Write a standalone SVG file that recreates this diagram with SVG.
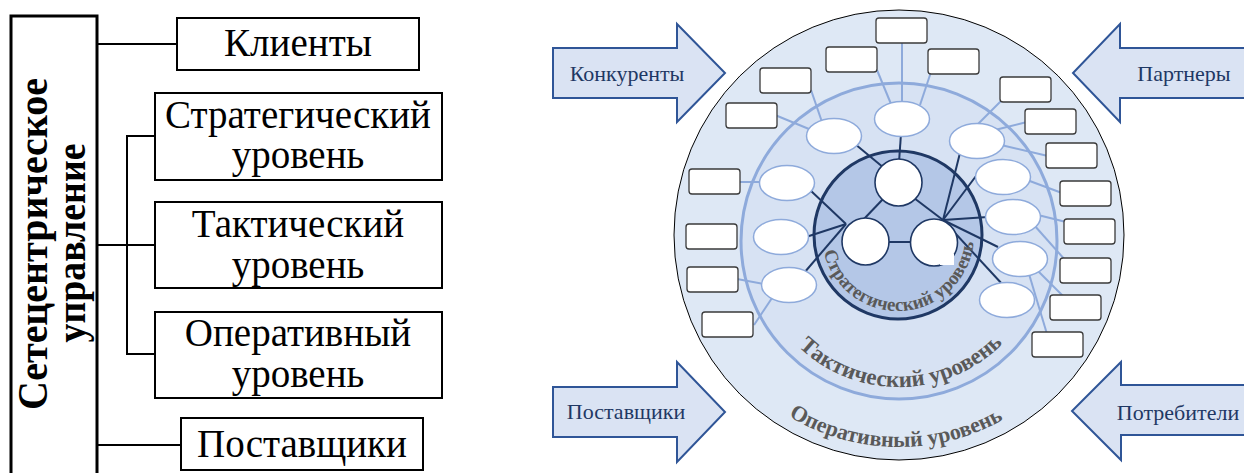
<svg xmlns="http://www.w3.org/2000/svg" xmlns:xlink="http://www.w3.org/1999/xlink" width="1244" height="473" viewBox="0 0 1244 473">
  <style>
    .box { fill: #ffffff; stroke: #000000; stroke-width: 2; }
    .frame { fill: #ffffff; stroke: #000000; stroke-width: 3; }
    .tree { fill: none; stroke: #000000; stroke-width: 2; }
    .lbl { font-family: "Liberation Serif", "Times New Roman", serif; font-size: 39px; fill: #000000; text-anchor: middle; }
    .vlbl { font-family: "Liberation Serif", "Times New Roman", serif; font-size: 43px; font-weight: bold; fill: #000000; text-anchor: middle; }
    .arrow { fill: #dae3f3; stroke: #2f5597; stroke-width: 2; stroke-linejoin: miter; }
    .alabel { font-family: "Liberation Serif", "Times New Roman", serif; font-size: 22px; fill: #1f3864; text-anchor: middle; }
    .ring-out { fill: #dee8f5; stroke: #000000; stroke-width: 1; }
    .ring-mid { fill: #d7e2f3; stroke: #8eaadb; stroke-width: 3; }
    .ring-in { fill: #b4c7e7; stroke: #1f3864; stroke-width: 3; }
    .ell { fill: #ffffff; stroke: #8eaadb; stroke-width: 1.5; }
    .cell { fill: #ffffff; stroke: #3a3a3a; stroke-width: 1.3; }
    .core { fill: #ffffff; stroke: #1f3864; stroke-width: 1.6; }
    .lt { fill: none; stroke: #8eaadb; stroke-width: 2; }
    .dk { fill: none; stroke: #1f3864; stroke-width: 2; }
    .arc { font-family: "Liberation Serif", "Times New Roman", serif; font-weight: bold; fill: #595959; text-anchor: middle; }
  </style>
  <defs>
    <path id="arc-strat" d="M822,235 A76,76 0 0 0 974,235"/>
    <path id="arc-tact" d="M753,241 A146,146 0 0 0 1045,241"/>
    <path id="arc-oper" d="M687,235 A212,212 0 0 0 1111,235"/>
  </defs>

  <!-- Left hierarchy -->
  <g id="tree-links">
    <path class="tree" d="M97,44 H177"/>
    <path class="tree" d="M97,245 H155"/>
    <path class="tree" d="M155,136 H127 V354 H155"/>
    <path class="tree" d="M97,445 H181"/>
  </g>
  <g id="root">
    <rect class="frame" x="11" y="16" width="86" height="470"/>
    <text class="vlbl" transform="translate(47,244) rotate(-90)" textLength="332" lengthAdjust="spacingAndGlyphs">Сетецентрическое</text>
    <text class="vlbl" transform="translate(85,243) rotate(-90)" textLength="199" lengthAdjust="spacingAndGlyphs">управление</text>
  </g>
  <g id="clients">
    <rect class="box" x="177" y="18" width="242" height="52"/>
    <text class="lbl" x="298" y="56">Клиенты</text>
  </g>
  <g id="strategic">
    <rect class="box" x="155" y="93" width="287" height="87"/>
    <text class="lbl" x="298" y="128">Стратегический</text>
    <text class="lbl" x="298" y="168">уровень</text>
  </g>
  <g id="tactical">
    <rect class="box" x="155" y="202" width="287" height="86"/>
    <text class="lbl" x="298" y="237">Тактический</text>
    <text class="lbl" x="298" y="278">уровень</text>
  </g>
  <g id="operational">
    <rect class="box" x="155" y="312" width="287" height="86"/>
    <text class="lbl" x="298" y="346">Оперативный</text>
    <text class="lbl" x="298" y="387">уровень</text>
  </g>
  <g id="suppliers">
    <rect class="box" x="181" y="418" width="242" height="52"/>
    <text class="lbl" x="302" y="457">Поставщики</text>
  </g>

  <!-- Concentric levels -->
  <g id="levels">
    <circle class="ring-out" cx="899" cy="235" r="225"/>
    <circle class="ring-mid" cx="899" cy="241" r="158"/>
    <circle class="ring-in" cx="898" cy="235" r="84"/>
  </g>

  <!-- Outside actors -->
  <g id="competitors">
    <polygon class="arrow" points="553,48 677,48 677,24 725,73 677,122 677,98 553,98"/>
    <text class="alabel" x="627" y="81">Конкуренты</text>
  </g>
  <g id="partners">
    <polygon class="arrow" points="1247,48 1120,48 1120,24 1073,73 1120,122 1120,98 1247,98"/>
    <text class="alabel" x="1184" y="81">Партнеры</text>
  </g>
  <g id="vendors">
    <polygon class="arrow" points="553,387 677,387 677,362 725,412 677,462 677,437 553,437"/>
    <text class="alabel" x="626" y="419">Поставщики</text>
  </g>
  <g id="consumers">
    <polygon class="arrow" points="1247,385 1121,385 1121,362 1072,411 1121,460 1121,435 1247,435"/>
    <text class="alabel" x="1178" y="420">Потребители</text>
  </g>

  <!-- Links -->
  <g id="connectors">
    <path class="lt" d="M902,105 V40"/>
    <path class="lt" d="M891,104 L877,70"/>
    <path class="lt" d="M920,105 L931,72"/>
    <path class="lt" d="M822,122 L811,90"/>
    <path class="lt" d="M809,129 L775,115"/>
    <path class="lt" d="M976,126 L1003,99"/>
    <path class="lt" d="M995,130 L1027,122"/>
    <path class="lt" d="M1001,145 L1048,156"/>
    <path class="lt" d="M762,182 L739,182"/>
    <path class="lt" d="M1027,180 L1062,193"/>
    <path class="lt" d="M1038,215 L1066,222"/>
    <path class="lt" d="M1034,225 L1066,261"/>
    <path class="lt" d="M764,284 L737,279"/>
    <path class="lt" d="M772,298 L754,325"/>
    <path class="lt" d="M1038,271 L1063,296"/>
    <path class="lt" d="M1029,274 L1047,334"/>

    <path class="dk" d="M899,162 L901,134"/>
    <path class="dk" d="M855,144 L884,168"/>
    <path class="dk" d="M810,190 L846,224"/>
    <path class="dk" d="M806,237 L846,224"/>
    <path class="dk" d="M804,273 L846,224"/>
    <path class="dk" d="M884,198 L863,220"/>
    <path class="dk" d="M914,198 L943,220"/>
    <path class="dk" d="M887,242 H913"/>
    <path class="dk" d="M943,220 L960,153"/>
    <path class="dk" d="M943,220 L976,176"/>
    <path class="dk" d="M943,220 L988,217"/>
    <path class="dk" d="M943,220 L998,247"/>
    <path class="dk" d="M943,220 L1003,285"/>
  </g>

  <!-- Level captions -->
  <g id="captions">
    <text class="arc" font-size="19"><textPath xlink:href="#arc-strat" href="#arc-strat" startOffset="52%">Стратегический уровень</textPath></text>
    <text class="arc" font-size="23"><textPath xlink:href="#arc-tact" href="#arc-tact" startOffset="50.5%">Тактический уровень</textPath></text>
    <text class="arc" font-size="22"><textPath xlink:href="#arc-oper" href="#arc-oper" startOffset="49.5%">Оперативный уровень</textPath></text>
  </g>

  <!-- Core units -->
  <g id="core-top"><circle class="core" cx="898.5" cy="182.5" r="23.5"/></g>
  <g id="core-left"><circle class="core" cx="865.5" cy="241.5" r="23.5"/></g>
  <g id="core-right">
    <circle class="core" cx="934" cy="242.5" r="23.5"/>
    <rect x="940" y="254" width="14" height="11" fill="#ffffff"/>
  </g>

  <!-- Tactical units -->
  <g id="unit-1"><ellipse class="ell" cx="834" cy="136" rx="27.5" ry="17.5"/></g>
  <g id="unit-2"><ellipse class="ell" cx="902" cy="119" rx="27.5" ry="17.5"/></g>
  <g id="unit-3"><ellipse class="ell" cx="977" cy="141" rx="27.5" ry="17.5"/></g>
  <g id="unit-4"><ellipse class="ell" cx="787" cy="183" rx="27.5" ry="17.5"/></g>
  <g id="unit-5"><ellipse class="ell" cx="1003" cy="177" rx="27.5" ry="17.5"/></g>
  <g id="unit-6"><ellipse class="ell" cx="1013" cy="217" rx="27.5" ry="17.5"/></g>
  <g id="unit-7"><ellipse class="ell" cx="781" cy="237" rx="27.5" ry="17.5"/></g>
  <g id="unit-8"><ellipse class="ell" cx="789" cy="285" rx="27.5" ry="17.5"/></g>
  <g id="unit-9"><ellipse class="ell" cx="1020" cy="259" rx="27.5" ry="17.5"/></g>
  <g id="unit-10"><ellipse class="ell" cx="1007" cy="300" rx="27.5" ry="17.5"/></g>

  <!-- Operational cells -->
  <g id="cell-1"><rect class="cell" x="876" y="18" width="51" height="25" rx="3"/></g>
  <g id="cell-2"><rect class="cell" x="826" y="47" width="51" height="25" rx="3"/></g>
  <g id="cell-3"><rect class="cell" x="928" y="49" width="51" height="25" rx="3"/></g>
  <g id="cell-4"><rect class="cell" x="760" y="68" width="51" height="25" rx="3"/></g>
  <g id="cell-5"><rect class="cell" x="726" y="103" width="51" height="25" rx="3"/></g>
  <g id="cell-6"><rect class="cell" x="1000" y="77" width="51" height="25" rx="3"/></g>
  <g id="cell-7"><rect class="cell" x="1025" y="109" width="51" height="25" rx="3"/></g>
  <g id="cell-8"><rect class="cell" x="1046" y="143" width="51" height="25" rx="3"/></g>
  <g id="cell-9"><rect class="cell" x="1060" y="181" width="51" height="25" rx="3"/></g>
  <g id="cell-10"><rect class="cell" x="689" y="169" width="51" height="25" rx="3"/></g>
  <g id="cell-11"><rect class="cell" x="686" y="224" width="51" height="25" rx="3"/></g>
  <g id="cell-12"><rect class="cell" x="687" y="267" width="51" height="25" rx="3"/></g>
  <g id="cell-13"><rect class="cell" x="702" y="312" width="51" height="25" rx="3"/></g>
  <g id="cell-14"><rect class="cell" x="1064" y="219" width="51" height="25" rx="3"/></g>
  <g id="cell-15"><rect class="cell" x="1060" y="258" width="51" height="25" rx="3"/></g>
  <g id="cell-16"><rect class="cell" x="1050" y="295" width="51" height="25" rx="3"/></g>
  <g id="cell-17"><rect class="cell" x="1032" y="332" width="51" height="25" rx="3"/></g>
</svg>
